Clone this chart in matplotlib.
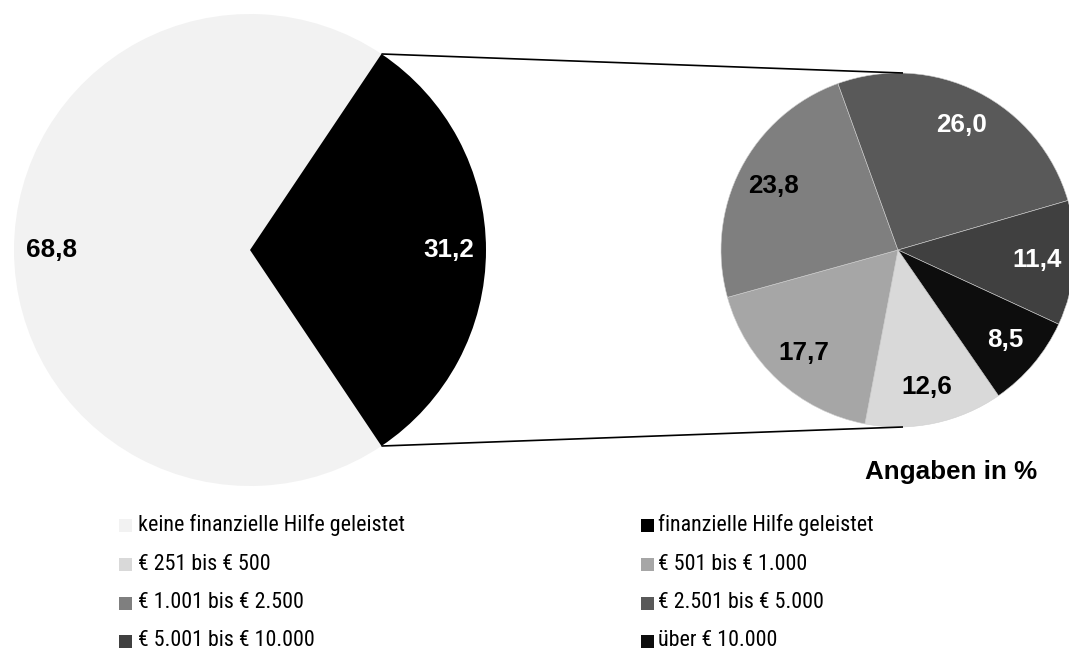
import numpy as np
import matplotlib
matplotlib.use("Agg")
import matplotlib.pyplot as plt
from matplotlib.patches import Rectangle
from matplotlib import font_manager

# ---- data ----
main_labels = ["keine finanzielle Hilfe geleistet", "finanzielle Hilfe geleistet"]
main_values = [68.8, 31.2]
main_colors = ["#f2f2f2", "#000000"]

sub_labels = ["€ 251 bis € 500", "€ 501 bis € 1.000", "€ 1.001 bis € 2.500",
              "€ 2.501 bis € 5.000", "€ 5.001 bis € 10.000", "über € 10.000"]
sub_values = [12.6, 17.7, 23.8, 26.0, 11.4, 8.5]
sub_colors = ["#d9d9d9", "#a6a6a6", "#7f7f7f", "#595959", "#404040", "#0d0d0d"]
sub_text_colors = ["black", "black", "black", "white", "white", "white"]

def fmt(v):
    return f"{v:.1f}".replace(".", ",")

installed = {f.name for f in font_manager.fontManager.ttflist}
leg_family, leg_size = "Liberation Sans", 15.0
for cand, size in [("Liberation Sans Narrow", 16.5), ("Arial Narrow", 16.5),
                   ("Roboto Condensed", 15.8)]:
    if cand in installed:
        leg_family, leg_size = cand, size
        break
bold_family = "Liberation Sans"

W, H = 1069, 651
fig = plt.figure(figsize=(W / 100, H / 100), dpi=100)
ax = fig.add_axes([0, 0, 1, 1])
ax.set_xlim(0, W)
ax.set_ylim(0, H)
ax.set_aspect("equal")
ax.axis("off")

def Y(py):
    return H - py

# main pie
c1 = (250, Y(250))
r1 = 236
half = main_values[1] / 100 * 180
w1, _ = ax.pie(main_values, colors=main_colors, startangle=half, counterclock=True,
               center=c1, radius=r1, frame=True,
               wedgeprops=dict(linewidth=0))
for w, v, col in zip(w1, main_values, ["black", "white"]):
    ang = np.deg2rad((w.theta1 + w.theta2) / 2)
    ax.text(c1[0] + 0.84 * r1 * np.cos(ang), c1[1] + 0.84 * r1 * np.sin(ang), fmt(v),
            ha="center", va="center", fontsize=18.7, fontweight="bold",
            color=col, family=bold_family)

# sub pie
c2 = (898, Y(250))
r2 = 177
w2, _ = ax.pie(sub_values, colors=sub_colors, startangle=-55.4, counterclock=False,
               center=c2, radius=r2, frame=True,
               wedgeprops=dict(linewidth=0.4, edgecolor="#d0d0d0"))
for w, v, col in zip(w2, sub_values, sub_text_colors):
    ang = np.deg2rad((w.theta1 + w.theta2) / 2)
    ax.text(c2[0] + 0.79 * r2 * np.cos(ang), c2[1] + 0.79 * r2 * np.sin(ang), fmt(v),
            ha="center", va="center", fontsize=18.7, fontweight="bold",
            color=col, family=bold_family)

ax.set_xlim(0, W)
ax.set_ylim(0, H)
ax.axis("off")

# connector lines
for s in (1, -1):
    a = np.deg2rad(s * half)
    x0, y0 = c1[0] + r1 * np.cos(a), c1[1] + r1 * np.sin(a)
    x1, y1 = c2[0] + 5, c2[1] + s * r2
    ax.plot([x0, x1], [y0, y1], color="black", lw=1.2, solid_capstyle="butt")

ax.text(1037, Y(472), "Angaben in %", ha="right", va="center", fontsize=18.7,
        fontweight="bold", family=bold_family)

# legend
rows = [525, 564, 603, 641]
col_marker_x = [119, 641]
col_text_x = [138, 658]
items = [(main_labels[0], main_colors[0]), (main_labels[1], main_colors[1])]
items += list(zip(sub_labels, sub_colors))
sq = 13
for i, (lab, colr) in enumerate(items):
    r, c = divmod(i, 2)
    yc = Y(rows[r])
    ax.add_patch(Rectangle((col_marker_x[c], yc - sq / 2), sq, sq, facecolor=colr,
                           edgecolor="none"))
    ax.text(col_text_x[c], yc, lab, ha="left", va="center", fontsize=leg_size,
            family=leg_family, color="black")

fig.savefig("out.png", dpi=100)
